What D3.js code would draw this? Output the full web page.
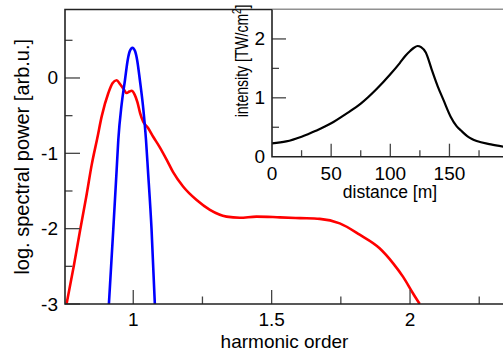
<!DOCTYPE html>
<html>
<head>
<meta charset="utf-8">
<script src="https://cdn.jsdelivr.net/npm/d3@7"></script>
<style>
  body { margin: 0; background: #fff; }
  svg { display: block; font-family: 'Liberation Sans', Arial, sans-serif; }
</style>
</head>
<body>
<svg id="chart" width="503" height="352"></svg>
<script>
// main plot: spectra (log scale), harmonic order on x
const redX = [0.759, 0.785, 0.808, 0.83, 0.85, 0.87, 0.886, 0.91, 0.925, 0.94, 0.952, 0.964,
  0.976, 0.986, 0.994, 1.005, 1.015, 1.025, 1.036, 1.053, 1.072, 1.096, 1.12, 1.144, 1.18,
  1.229, 1.277, 1.337, 1.385, 1.445, 1.53, 1.603, 1.674, 1.746, 1.818, 1.89, 1.939, 1.975,
  2.011, 2.035];
const redY = [-3, -2.5, -2.02, -1.58, -1.15, -0.8, -0.51, -0.2, -0.07, -0.03, -0.08, -0.14,
  -0.2, -0.18, -0.17, -0.22, -0.32, -0.47, -0.58, -0.66, -0.78, -0.92, -1.08, -1.25, -1.44,
  -1.62, -1.75, -1.84, -1.855, -1.84, -1.85, -1.86, -1.87, -1.93, -2.08, -2.26, -2.46, -2.64,
  -2.86, -3];

const blueX = [0.912, 0.928, 0.94, 0.946, 0.958, 0.97, 0.98, 0.988, 0.997, 1.006, 1.014,
  1.024, 1.036, 1.046, 1.053, 1.066, 1.078];
const blueY = [-3, -2, -1.22, -0.82, -0.35, -0.03, 0.24, 0.36, 0.4, 0.36, 0.24, -0.03, -0.4,
  -0.82, -1.22, -2, -3];

const mainXTicks = [1, 1.5, 2];
const mainXMinor = [1.25, 1.75, 2.25];
const mainYTicks = [-3, -2, -1, 0];
const mainYMinor = [-2.5, -1.5, -0.5, 0.5];

// inset: intensity along distance
const distX = [0, 12, 25, 37, 50, 62, 75, 88, 100, 108, 113, 117, 120, 123, 126, 130,
  135, 140, 145, 151, 156, 160, 165, 169, 173, 185, 196];
const intensY = [0.227, 0.26, 0.34, 0.44, 0.567, 0.72, 0.9, 1.14, 1.4, 1.59, 1.72,
  1.8, 1.85, 1.88, 1.86, 1.77, 1.48, 1.2, 0.96, 0.68, 0.52, 0.44, 0.35, 0.3, 0.265, 0.21, 0.17];

const insetXTicks = [0, 50, 100, 150];
const insetXMinor = [25, 75, 125, 175];
const insetYTicks = [0, 1, 2];
const insetYMinor = [0.5, 1.5];

const svg = d3.select('#chart');

const axisColor = '#222';
const tickColor = '#444';

const main = { left: 65, right: 504, top: 9.5, bottom: 304 };
const inset = { left: 272, right: 504, top: 9.5, bottom: 156.7 };

const xScale = d3.scaleLinear().domain([0.7534, 2.3395]).range([main.left, main.right]);
const yScale = d3.scaleLinear().domain([-3, 0.909]).range([main.bottom, main.top]);

const ixScale = d3.scaleLinear().domain([0, 196.1]).range([inset.left, inset.right]);
const iyScale = d3.scaleLinear().domain([0, 2.5]).range([inset.bottom, inset.top]);

const zip = (xs, ys) => xs.map((x, i) => [x, ys[i]]);

// ---- main plot ----
svg.append('clipPath').attr('id', 'mainClip')
  .append('rect')
    .attr('x', main.left).attr('y', main.top)
    .attr('width', main.right - main.left).attr('height', main.bottom - main.top);

const line = d3.line()
  .x(d => xScale(d[0]))
  .y(d => yScale(d[1]))
  .curve(d3.curveMonotoneX);

const curves = svg.append('g').attr('clip-path', 'url(#mainClip)');
curves.append('path')
  .attr('d', line(zip(redX, redY)))
  .attr('fill', 'none')
  .attr('stroke', '#ff0000')
  .attr('stroke-width', 2.6);
curves.append('path')
  .attr('d', line(zip(blueX, blueY)))
  .attr('fill', 'none')
  .attr('stroke', '#0000ff')
  .attr('stroke-width', 2.6);

// ticks pointing inward
const tickG = svg.append('g').attr('stroke', tickColor).attr('stroke-width', 1.3);
tickG.selectAll('.xmaj').data(mainXTicks).enter().append('line')
  .attr('x1', d => xScale(d)).attr('x2', d => xScale(d))
  .attr('y1', main.bottom).attr('y2', main.bottom - 14);
tickG.selectAll('.xmin').data(mainXMinor).enter().append('line')
  .attr('x1', d => xScale(d)).attr('x2', d => xScale(d))
  .attr('y1', main.bottom).attr('y2', main.bottom - 7.5);
tickG.selectAll('.ymaj').data(mainYTicks).enter().append('line')
  .attr('y1', d => yScale(d)).attr('y2', d => yScale(d))
  .attr('x1', main.left).attr('x2', main.left + 15);
tickG.selectAll('.ymin').data(mainYMinor).enter().append('line')
  .attr('y1', d => yScale(d)).attr('y2', d => yScale(d))
  .attr('x1', main.left).attr('x2', main.left + 7.5);

// frame
svg.append('path')
  .attr('d', `M${main.right},${main.top}H${main.left}V${main.bottom}H${main.right}`)
  .attr('fill', 'none')
  .attr('stroke', axisColor)
  .attr('stroke-width', 1.6);

svg.selectAll('.xlab').data(mainXTicks).enter().append('text')
  .attr('x', d => xScale(d))
  .attr('y', main.bottom + 22)
  .attr('text-anchor', 'middle')
  .attr('font-size', 19)
  .text(d => d);
svg.selectAll('.ylab').data(mainYTicks).enter().append('text')
  .attr('x', main.left - 7)
  .attr('y', d => yScale(d) + 6.5)
  .attr('text-anchor', 'end')
  .attr('font-size', 19)
  .text(d => d);

svg.append('text')
  .attr('x', (main.left + main.right) / 2)
  .attr('y', 348)
  .attr('text-anchor', 'middle')
  .attr('font-size', 19)
  .text('harmonic order');
svg.append('text')
  .attr('transform', `translate(29, ${(main.top + main.bottom) / 2}) rotate(-90)`)
  .attr('text-anchor', 'middle')
  .attr('font-size', 20)
  .text('log. spectral power [arb.u.]');

// ---- inset ----
const insetG = svg.append('g');
insetG.append('rect')
  .attr('x', inset.left).attr('y', inset.top)
  .attr('width', inset.right - inset.left).attr('height', inset.bottom - inset.top)
  .attr('fill', '#fff');

const iline = d3.line()
  .x(d => ixScale(d[0]))
  .y(d => iyScale(d[1]))
  .curve(d3.curveMonotoneX);
insetG.append('path')
  .attr('d', iline(zip(distX, intensY)))
  .attr('fill', 'none')
  .attr('stroke', '#000')
  .attr('stroke-width', 2.2);

const itick = insetG.append('g').attr('stroke', tickColor).attr('stroke-width', 1.3);
itick.selectAll('.xmaj').data(insetXTicks.slice(1)).enter().append('line')
  .attr('x1', d => ixScale(d)).attr('x2', d => ixScale(d))
  .attr('y1', inset.bottom).attr('y2', inset.bottom - 13);
itick.selectAll('.xmin').data(insetXMinor).enter().append('line')
  .attr('x1', d => ixScale(d)).attr('x2', d => ixScale(d))
  .attr('y1', inset.bottom).attr('y2', inset.bottom - 6.5);
itick.selectAll('.ymaj').data(insetYTicks.slice(1)).enter().append('line')
  .attr('y1', d => iyScale(d)).attr('y2', d => iyScale(d))
  .attr('x1', inset.left).attr('x2', inset.left + 14);
itick.selectAll('.ymin').data(insetYMinor).enter().append('line')
  .attr('y1', d => iyScale(d)).attr('y2', d => iyScale(d))
  .attr('x1', inset.left).attr('x2', inset.left + 7);

insetG.append('path')
  .attr('d', `M${inset.left},${inset.top}V${inset.bottom}H${inset.right}`)
  .attr('fill', 'none')
  .attr('stroke', axisColor)
  .attr('stroke-width', 1.6);

insetG.selectAll('.xlab').data(insetXTicks).enter().append('text')
  .attr('x', d => ixScale(d))
  .attr('y', inset.bottom + 23)
  .attr('text-anchor', 'middle')
  .attr('font-size', 19)
  .text(d => d);
insetG.selectAll('.ylab').data(insetYTicks).enter().append('text')
  .attr('x', inset.left - 7)
  .attr('y', d => iyScale(d) + 6.5)
  .attr('text-anchor', 'end')
  .attr('font-size', 19)
  .text(d => d);

insetG.append('text')
  .attr('x', (inset.left + inset.right) / 2 + 2)
  .attr('y', 198)
  .attr('text-anchor', 'middle')
  .attr('font-size', 17.5)
  .text('distance [m]');

// the inset y title is squeezed along its length in the original
const ytitle = insetG.append('text')
  .attr('transform', `translate(248, 61) rotate(-90) scale(0.8, 1)`)
  .attr('text-anchor', 'middle')
  .attr('font-size', 17.5);
ytitle.append('tspan').text('intensity [TW/cm');
ytitle.append('tspan').attr('font-size', 12).attr('dy', -7).text('2');
ytitle.append('tspan').attr('dy', 7).text(']');
</script>
</body>
</html>
